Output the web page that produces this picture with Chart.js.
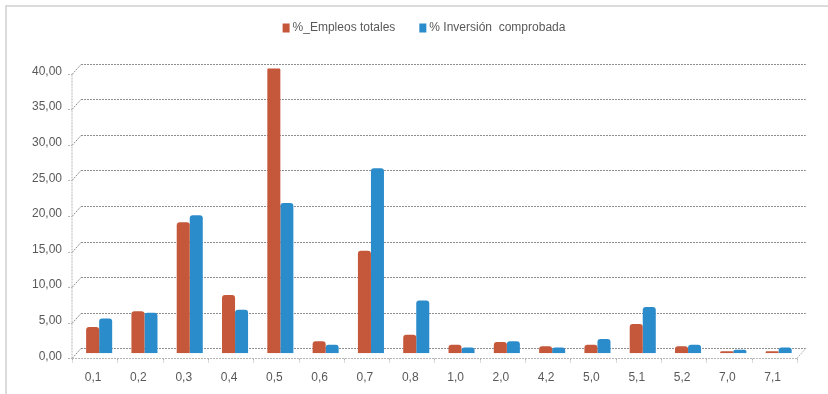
<!DOCTYPE html>
<html>
<head>
<meta charset="utf-8">
<script src="https://cdn.jsdelivr.net/npm/chart.js@4.4.1/dist/chart.umd.min.js"></script>
<style>
  html, body { margin: 0; padding: 0; background: #ffffff; }
  #wrap { width: 828px; height: 394px; position: relative; }
</style>
</head>
<body>
<div id="wrap"><canvas id="chart" width="828" height="394"></canvas></div>
<script>
// Categories on the horizontal axis
const categories = ['0,1', '0,2', '0,3', '0,4', '0,5', '0,6', '0,7', '0,8',
                    '1,0', '2,0', '4,2', '5,0', '5,1', '5,2', '7,0', '7,1'];

// Series values (percent)
const empleosTotales      = [3.7, 5.9, 18.4, 8.2, 40.2, 1.7, 14.4, 2.6, 1.2, 1.6, 1.0, 1.2, 4.1, 1.0, 0.3, 0.3];
const inversionComprobada = [4.9, 5.7, 19.4, 6.1, 21.1, 1.2, 26.0, 7.4, 0.8, 1.7, 0.8, 2.0, 6.5, 1.2, 0.5, 0.8];

// Series names
const seriesNames = ['%_Empleos totales', '% Inversión  comprobada'];

// Value axis ticks
const yTicks = [0, 5, 10, 15, 20, 25, 30, 35, 40];

const RED = '#c5573a';
const BLUE = '#2b8ccb';
const TEXT = '#595959';
const FONT = '"Liberation Sans", Arial, sans-serif';

// Depth offsets of the pseudo-3D walls (front plane / back plane around the bars)
const DX = 4.5, DY = 5;

const fmt = v => Number(v).toFixed(2).replace('.', ',');

function seg(ctx, x1, y1, x2, y2) {
  ctx.beginPath();
  ctx.moveTo(x1, y1);
  ctx.lineTo(x2, y2);
  ctx.stroke();
}

// Outer frame of the chart
const framePlugin = {
  id: 'frame',
  beforeDraw(chart) {
    const ctx = chart.ctx;
    ctx.save();
    ctx.fillStyle = '#ffffff';
    ctx.fillRect(0, 0, chart.width, chart.height);
    ctx.strokeStyle = '#cfcfcf';
    ctx.lineWidth = 1.5;
    ctx.strokeRect(6, 6, chart.width + 20, chart.height + 20);
    ctx.restore();
  }
};

// Back wall gridlines, left wall edges and floor drawn in perspective
const wallPlugin = {
  id: 'wall3d',
  beforeDatasetsDraw(chart) {
    const { ctx, chartArea: { left, right }, scales: { y } } = chart;
    ctx.save();
    ctx.lineWidth = 1;
    ctx.strokeStyle = '#8e8e8e';
    ctx.setLineDash([2, 1]);
    yTicks.forEach(v => {
      const py = Math.round(y.getPixelForValue(v)) + 0.5;
      seg(ctx, left + DX, py - DY, right + DX, py - DY);
      seg(ctx, left - DX, py + DY, left + DX, py - DY);
    });
    const y0 = Math.round(y.getPixelForValue(0)) + 0.5;
    const yTop = Math.round(y.getPixelForValue(yTicks[yTicks.length - 1])) + 0.5;
    ctx.strokeStyle = '#b5b5b5';
    // front vertical axis and its ticks
    seg(ctx, left - DX, yTop + DY, left - DX, y0 + DY);
    yTicks.forEach(v => {
      const py = Math.round(y.getPixelForValue(v)) + 0.5;
      seg(ctx, left - DX - 4, py + DY, left - DX, py + DY);
    });
    // floor front edge, right edge and category ticks
    seg(ctx, left - DX, y0 + DY, right - DX, y0 + DY);
    seg(ctx, right - DX, y0 + DY, right + DX, y0 - DY);
    const n = categories.length;
    for (let i = 0; i <= n; i++) {
      const bx = Math.round(left + i * (right - left) / n - DX) + 0.5;
      seg(ctx, bx, y0 + DY, bx, y0 + DY + 4);
    }
    ctx.restore();
  }
};

// Legend row above the plot
const legendPlugin = {
  id: 'legendRow',
  afterDraw(chart) {
    const ctx = chart.ctx;
    ctx.save();
    ctx.font = '12px ' + FONT;
    ctx.textBaseline = 'middle';
    const box = 7, gap = 3, spacing = 24;
    const widths = chart.data.datasets.map(d => ctx.measureText(d.label).width);
    const total = widths.reduce((a, w) => a + box + gap + w, 0) + spacing * (widths.length - 1);
    let x = 424 - total / 2;
    const cy = 28;
    chart.data.datasets.forEach((d, i) => {
      ctx.fillStyle = d.backgroundColor;
      ctx.fillRect(x, cy - 4.5, box, 9);
      x += box + gap;
      ctx.fillStyle = TEXT;
      ctx.fillText(d.label, x, cy);
      x += widths[i] + spacing;
    });
    ctx.restore();
  }
};

new Chart(document.getElementById('chart'), {
  type: 'bar',
  data: {
    labels: categories,
    datasets: [
      {
        label: seriesNames[0],
        data: empleosTotales,
        backgroundColor: RED,
        borderRadius: 3,
        borderSkipped: 'start'
      },
      {
        label: seriesNames[1],
        data: inversionComprobada,
        backgroundColor: BLUE,
        borderRadius: 3,
        borderSkipped: 'start'
      }
    ]
  },
  options: {
    responsive: false,
    devicePixelRatio: 1,
    animation: false,
    layout: { padding: { left: 0, right: 26.7, top: 68.5, bottom: 0.7 } },
    datasets: {
      bar: { categoryPercentage: 0.575, barPercentage: 1.0 }
    },
    plugins: {
      legend: { display: false },
      tooltip: { enabled: false }
    },
    scales: {
      x: {
        grid: { display: false, drawTicks: false },
        border: { display: false },
        ticks: {
          color: TEXT,
          font: { family: FONT, size: 12 },
          padding: 17.5,
          labelOffset: -6,
          maxRotation: 0,
          autoSkip: false
        },
        afterFit(scale) { scale.height = 40; }
      },
      y: {
        min: 0,
        max: 40,
        grid: { display: false, drawTicks: false },
        border: { display: false },
        afterBuildTicks(scale) { scale.ticks = yTicks.map(v => ({ value: v })); },
        ticks: {
          color: TEXT,
          font: { family: FONT, size: 12 },
          padding: 14.5,
          labelOffset: 3,
          callback: v => fmt(v)
        },
        afterFit(scale) { scale.width = 76.5; }
      }
    }
  },
  plugins: [framePlugin, wallPlugin, legendPlugin]
});
</script>
</body>
</html>
